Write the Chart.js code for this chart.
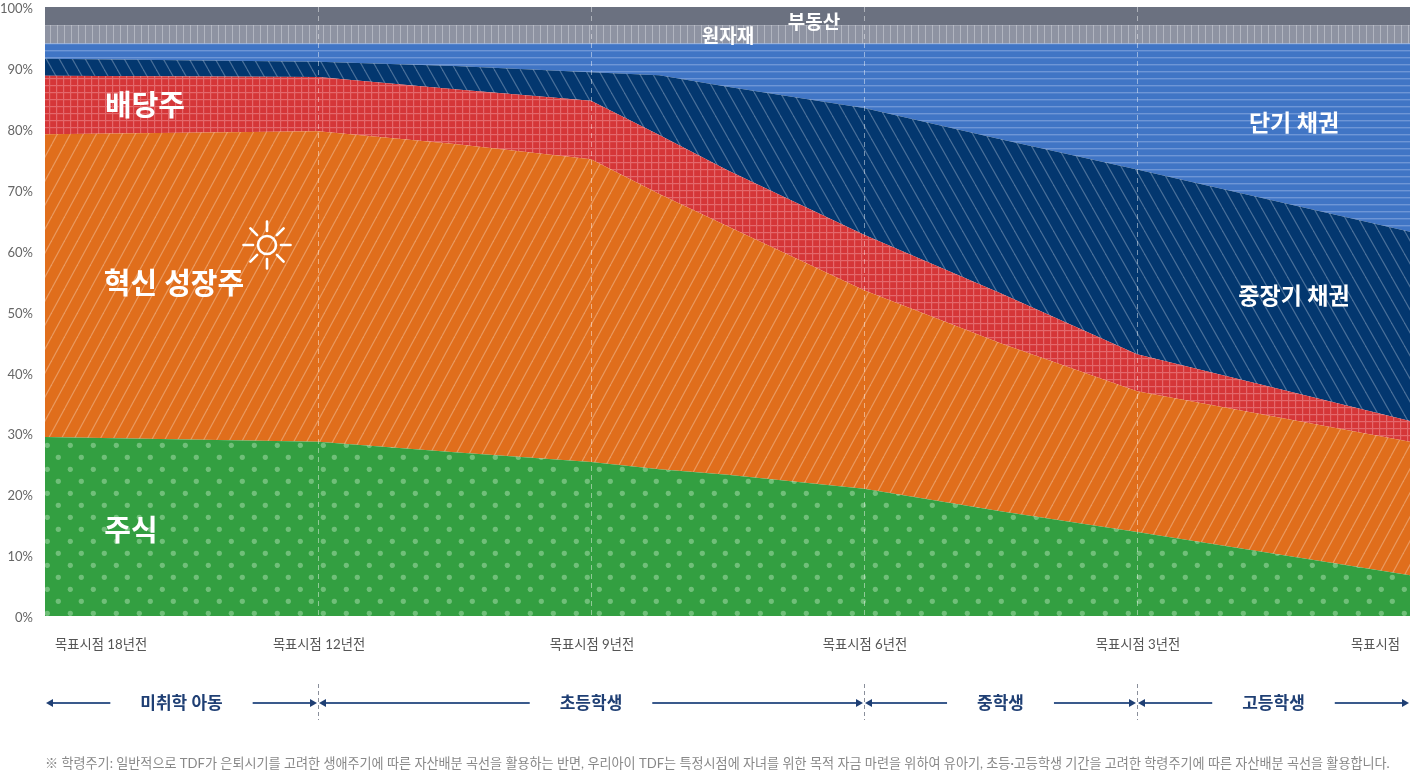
<!DOCTYPE html>
<html lang="ko">
<head>
<meta charset="utf-8">
<title>학령주기 자산배분</title>
<script src="https://cdn.jsdelivr.net/npm/chart.js@4"></script>
<style>
    html, body { margin: 0; padding: 0; background: #fff; overflow: hidden; }
    canvas { display: block; }
</style>
</head>
<body>
<canvas id="chart" width="1410" height="772"></canvas>
<script>
// x 위치: 0 = 목표시점 18년전 ... 5 = 목표시점
const xPos = [0, 1, 1.5, 2, 2.25, 2.5, 3, 3.5, 4, 5];
const xTickLabels = ['목표시점 18년전', '목표시점 12년전', '목표시점 9년전', '목표시점 6년전', '목표시점 3년전', '목표시점'];

// 그림에서 읽은 비중(%)
const stock     = [29.4, 28.6, 26.9, 25.3, 24.1, 23.2, 20.9, 17.2, 13.8, 6.7];
const growth    = [49.7, 51.0, 50.6, 49.7, 45.2, 40.8, 32.6, 27.6, 23.1, 21.9];
const dividend  = [9.6, 8.9, 9.0, 9.6, 9.7, 9.2, 9.1, 8.2, 6.1, 3.4];
const midLong   = [2.8, 2.5, 3.8, 4.7, 9.8, 13.7, 20.8, 25.3, 30.3, 31.1];
const shortTerm = [2.5, 3.0, 3.7, 4.7, 5.2, 7.1, 10.6, 15.7, 20.7, 30.9];
const commodity = [3, 3, 3, 3, 3, 3, 3, 3, 3, 3];
const realty    = [3, 3, 3, 3, 3, 3, 3, 3, 3, 3];

const stageNames = ['미취학 아동', '초등학생', '중학생', '고등학생'];
const stageEdges = [0, 1, 3, 4, 5];

const footnote = '※ 학령주기: 일반적으로 TDF가 은퇴시기를 고려한 생애주기에 따른 자산배분 곡선을 활용하는 반면, 우리아이 TDF는 특정시점에 자녀를 위한 목적 자금 마련을 위하여 유아기, 초등·고등학생 기간을 고려한 학령주기에 따른 자산배분 곡선을 활용합니다.';

const FONT = 'Lato, "Noto Sans CJK KR", sans-serif';

function tile(w, h, bg, paint) {
    const c = document.createElement('canvas');
    c.width = w;
    c.height = h;
    const g = c.getContext('2d');
    g.fillStyle = bg;
    g.fillRect(0, 0, w, h);
    paint(g);
    return g.createPattern(c, 'repeat');
}

function hatch(w, h, bg, line, dir) {
    return tile(w, h, bg, (g) => {
        g.strokeStyle = line;
        g.lineWidth = 1.2;
        for (let i = -1; i <= 1; i++) {
            g.beginPath();
            if (dir > 0) {
                g.moveTo(i * w, h);
                g.lineTo(i * w + w, 0);
            } else {
                g.moveTo(i * w, 0);
                g.lineTo(i * w + w, h);
            }
            g.stroke();
        }
    });
}

const dots = tile(23, 24, '#339f41', (g) => {
    g.fillStyle = '#70bf79';
    [[12.3, 1.3], [1.3, 13.3], [24.3, 13.3], [12.3, 25.3], [-10.7, 13.3]].forEach((p) => {
        g.beginPath();
        g.arc(p[0], p[1], 2.6, 0, Math.PI * 2);
        g.fill();
    });
});

const grid = tile(7, 7, '#d53638', (g) => {
    g.fillStyle = '#e4686c';
    g.fillRect(0, 0, 1.2, 7);
    g.fillRect(0, 1, 7, 1.2);
});

const vLines = tile(7, 7, '#8e93a2', (g) => {
    g.fillStyle = '#b1b5c0';
    g.fillRect(1, 0, 1, 7);
});

const hLines = tile(7, 7, '#4075c5', (g) => {
    g.fillStyle = '#6e96d6';
    g.fillRect(0, 1, 7, 1.4);
});

const bandLabels = [
    { text: '배당주', x: 145, y: 107, size: 29 },
    { text: '혁신 성장주', x: 174, y: 285, size: 29 },
    { text: '주식', x: 131, y: 532, size: 29 },
    { text: '단기 채권', x: 1294, y: 124, size: 23 },
    { text: '중장기 채권', x: 1294, y: 297, size: 23 },
    { text: '원자재', x: 728, y: 37, size: 19 },
    { text: '부동산', x: 814, y: 23, size: 19 }
];

const extras = {
    id: 'extras',
    beforeDraw(chart) {
        // 눈금 글자 위치 미세 조정
        const xItems = chart.scales.x.getLabelItems(chart.chartArea);
        xItems.forEach((item, i) => {
            if (i === 0) item.options.translation[0] += 10;
            else if (i === xItems.length - 1) item.options.translation[0] -= 10;
            else item.options.translation[0] += 1;
            item.options.translation[1] += 1;
        });
        chart.scales.y.getLabelItems(chart.chartArea).forEach((item) => {
            item.options.translation[1] += 2;
        });
    },
    afterDraw(chart) {
        const ctx = chart.ctx;
        const x = chart.scales.x;
        ctx.save();

        ctx.fillStyle = '#fff';
        ctx.textAlign = 'center';
        ctx.textBaseline = 'middle';
        bandLabels.forEach((l) => {
            ctx.font = `bold ${l.size}px ${FONT}`;
            ctx.fillText(l.text, l.x, l.y);
        });

        // 해 아이콘
        ctx.strokeStyle = '#fff';
        ctx.lineWidth = 2.6;
        ctx.lineCap = 'round';
        ctx.beginPath();
        ctx.arc(267, 245, 9, 0, Math.PI * 2);
        ctx.stroke();
        for (let i = 0; i < 8; i++) {
            const a = i * Math.PI / 4;
            ctx.beginPath();
            ctx.moveTo(267 + Math.cos(a) * 14, 245 + Math.sin(a) * 14);
            ctx.lineTo(267 + Math.cos(a) * 23.5, 245 + Math.sin(a) * 23.5);
            ctx.stroke();
        }
        ctx.lineCap = 'butt';

        // 학령 구간 화살표
        const ay = 703;
        stageNames.forEach((name, i) => {
            const x0 = x.getPixelForValue(stageEdges[i]);
            const x1 = x.getPixelForValue(stageEdges[i + 1]);
            const mid = (x0 + x1) / 2;
            ctx.font = `bold 17px ${FONT}`;
            ctx.fillStyle = '#1f3f74';
            ctx.fillText(name, mid, ay + 1);
            const half = ctx.measureText(name).width / 2 + 30;
            ctx.strokeStyle = '#3a5a8c';
            ctx.lineWidth = 2;
            ctx.beginPath();
            ctx.moveTo(x0 + 4, ay);
            ctx.lineTo(mid - half, ay);
            ctx.moveTo(mid + half, ay);
            ctx.lineTo(x1 - 4, ay);
            ctx.stroke();
            ctx.fillStyle = '#1f3f74';
            ctx.beginPath();
            ctx.moveTo(x0 + 1, ay);
            ctx.lineTo(x0 + 8, ay - 4);
            ctx.lineTo(x0 + 8, ay + 4);
            ctx.closePath();
            ctx.moveTo(x1 - 1, ay);
            ctx.lineTo(x1 - 8, ay - 4);
            ctx.lineTo(x1 - 8, ay + 4);
            ctx.closePath();
            ctx.fill();
            if (i > 0) {
                ctx.strokeStyle = '#8a8f9b';
                ctx.lineWidth = 1;
                ctx.setLineDash([4, 3]);
                ctx.beginPath();
                ctx.moveTo(x0 + 0.5, 684);
                ctx.lineTo(x0 + 0.5, 720);
                ctx.stroke();
                ctx.setLineDash([]);
            }
        });

        ctx.font = `13.1px ${FONT}`;
        ctx.fillStyle = '#888';
        ctx.textAlign = 'left';
        ctx.fillText(footnote, 45, 764);
        ctx.restore();
    }
};

function band(label, data, bg, fill) {
    return {
        label: label,
        data: data,
        backgroundColor: bg,
        fill: fill,
        borderWidth: 0,
        pointRadius: 0,
        tension: 0
    };
}

// 눈금 글자 때문에 차트 영역이 줄어들지 않게 한다
function noPad(scale) {
    scale.paddingTop = 0;
    scale.paddingBottom = 0;
    scale.paddingLeft = 0;
    scale.paddingRight = 0;
}

new Chart(document.getElementById('chart'), {
    type: 'line',
    data: {
        labels: xPos,
        datasets: [
            band('주식', stock, dots, 'origin'),
            band('혁신 성장주', growth, hatch(13, 24, '#e06e1c', '#e99a60', 1), '-1'),
            band('배당주', dividend, grid, '-1'),
            band('중장기 채권', midLong, hatch(13, 23, '#03376f', '#4a7099', -1), '-1'),
            band('단기 채권', shortTerm, hLines, '-1'),
            band('원자재', commodity, vLines, '-1'),
            band('부동산', realty, '#6b7180', '-1')
        ]
    },
    plugins: [extras],
    options: {
        responsive: false,
        animation: false,
        layout: { padding: { top: 7, right: 0, left: 0, bottom: 0 } },
        plugins: { legend: { display: false }, tooltip: { enabled: false } },
        scales: {
            x: {
                type: 'linear',
                min: 0,
                max: 5,
                afterFit(scale) { scale.height = 156; noPad(scale); },
                border: { display: false, dash: [5, 4] },
                grid: {
                    z: 1,
                    drawTicks: false,
                    color: (c) => (c.index === 0 || c.index === 5) ? 'rgba(0,0,0,0)' : 'rgba(255,255,255,0.45)'
                },
                ticks: {
                    stepSize: 1,
                    align: 'inner',
                    maxRotation: 0,
                    autoSkip: false,
                    padding: 20,
                    color: '#555',
                    font: { size: 13.3, family: FONT },
                    callback: (v) => xTickLabels[v]
                }
            },
            y: {
                stacked: true,
                min: 0,
                max: 100,
                afterFit(scale) { scale.width = 45; noPad(scale); },
                border: { display: false },
                grid: { display: false, drawTicks: false },
                ticks: {
                    stepSize: 10,
                    padding: 12,
                    color: '#666',
                    font: { size: 13, family: FONT },
                    callback: (v) => v + '%'
                }
            }
        }
    }
});
</script>
</body>
</html>
